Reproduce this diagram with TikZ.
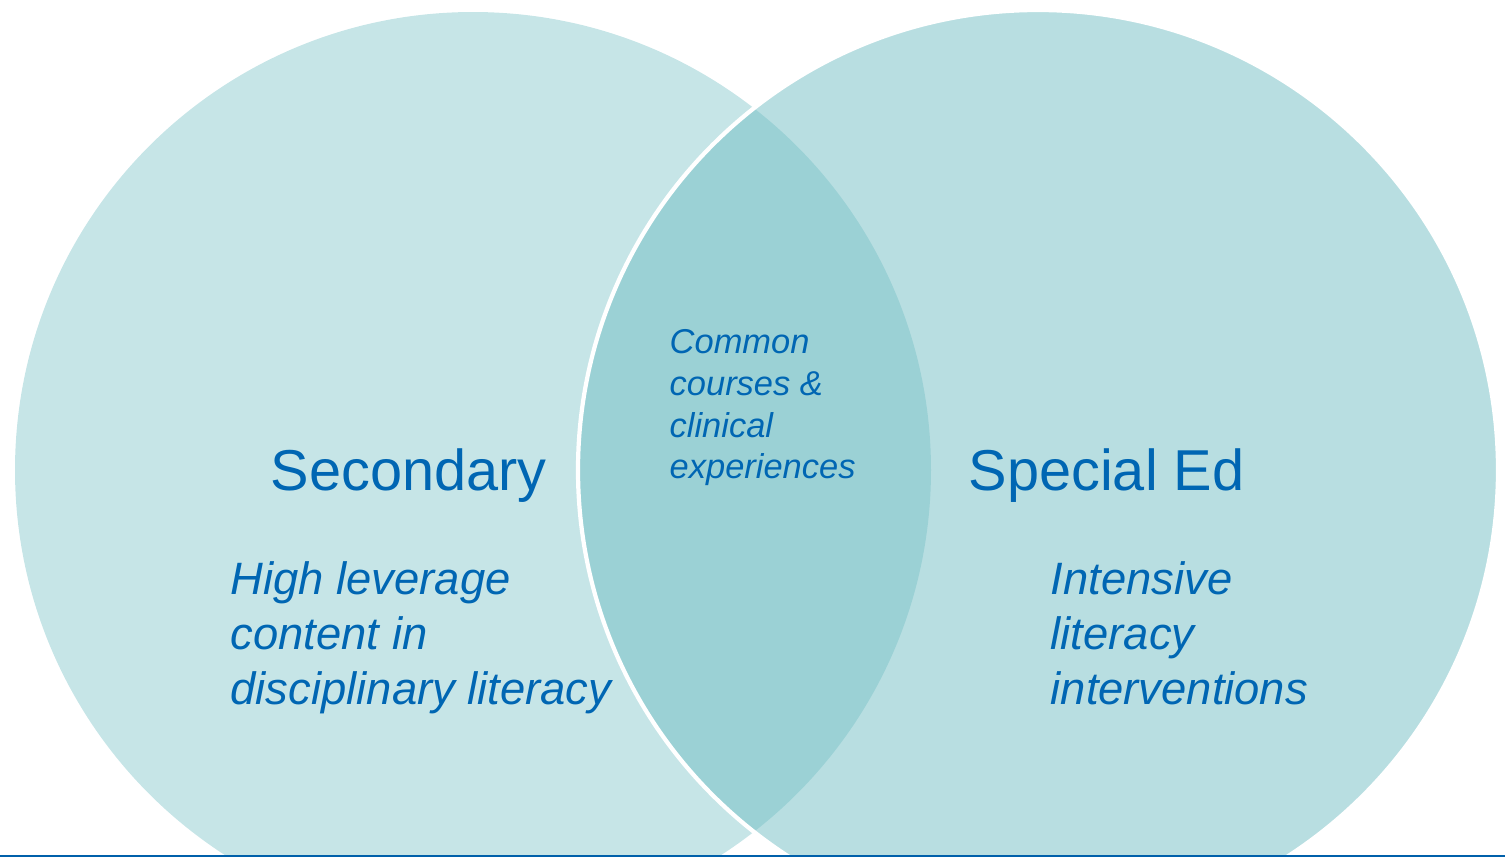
\documentclass[tikz,border=0pt]{standalone}
\usepackage{fontspec}
\setmainfont{Liberation Sans}
\definecolor{vennteal}{RGB}{113,189,195}
\definecolor{venntext}{RGB}{0,102,179}
\definecolor{rulebar}{RGB}{0,96,170}

\begin{document}
\begin{tikzpicture}[x=0.01cm, y=-0.01cm,
    settitle/.style={text=venntext, inner sep=0pt, anchor=base west,
        font=\fontsize{16.4}{19}\selectfont},
    setnote/.style={text=venntext, inner sep=0pt, anchor=north west, align=left,
        font=\fontsize{12.9}{15.6}\selectfont\itshape},
    sharednote/.style={setnote, font=\fontsize{9.8}{11.85}\selectfont\itshape}]
    \useasboundingbox (0,0) rectangle (1505,857);
    \clip (0,0) rectangle (1505,857);
    % the two sets
    \fill[vennteal, fill opacity=0.4] (473,470) circle (458);
    \path[fill=vennteal, fill opacity=0.5, draw=white, line width=1.2pt] (1038,470) circle (460);
    % labels
    \node[settitle] (secondary) at (270,490) {Secondary};
    \node[settitle] (speced) at (968,490) {Special Ed};
    \node[setnote] (seclit) at (230,561) {High leverage\\content in\\disciplinary literacy};
    \node[setnote] (spedlit) at (1050,561) {Intensive\\literacy\\interventions};
    \node[sharednote] (common) at (669,329) {Common\\courses \&\\clinical\\experiences};
    % bottom rule
    \draw[rulebar, line width=0.6pt] (0,856) -- (1505,856);
\end{tikzpicture}
\end{document}
